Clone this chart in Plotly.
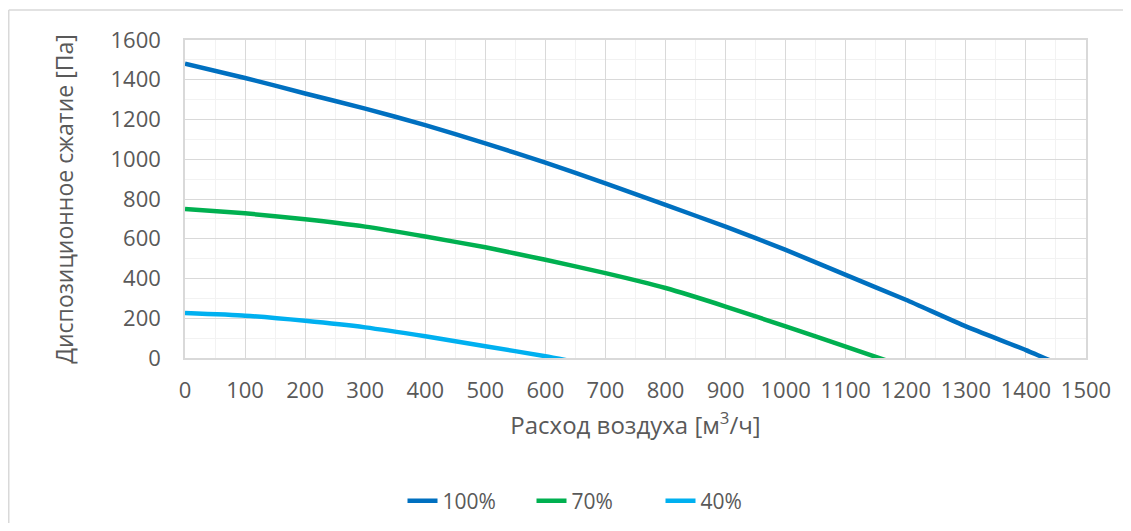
import plotly.graph_objects as go

# Data
x_100 = [0, 100, 200, 300, 400, 500, 600, 700, 800, 900, 1000, 1100, 1200, 1300, 1400, 1450]
y_100 = [1481, 1409, 1331, 1255, 1172, 1080, 983, 879, 770, 661, 544, 418, 293, 159, 40, -25]

x_70 = [0, 100, 200, 300, 400, 500, 600, 700, 800, 900, 1000, 1100, 1175]
y_70 = [750, 728, 698, 661, 611, 557, 494, 427, 352, 259, 159, 57, -20]

x_40 = [0, 100, 200, 300, 400, 500, 600, 650]
y_40 = [226, 213, 187, 154, 109, 59, 9, -20]

series = [("100%", x_100, y_100, "#0070C0"),
          ("70%", x_70, y_70, "#00B050"),
          ("40%", x_40, y_40, "#00B0F0")]

x_title = "Расход воздуха [м<sup>3</sup>/ч]"
y_title = "Диспозиционное сжатие [Па]"

FONT = "Open Sans"
GRAY = "#595959"

fig = go.Figure()
for name, xs, ys, col in series:
    fig.add_trace(go.Scatter(x=xs, y=ys, name=name, mode="lines",
                             line=dict(color=col, width=4.5, shape="spline", smoothing=0.5)))

# page body has an 8px margin: figure origin is at page (8, 8)
OFF = 8
W, H = 1131 - 2 * OFF, 531 - 2 * OFF
L = 185 - OFF
T = 40 - OFF
R = (W + OFF) - 1086
B = (H + OFF) - 358
pw = W - L - R
ph = H - T - B

fig.update_layout(
    width=W, height=H,
    margin=dict(l=L, r=R, t=T, b=B, autoexpand=False),
    paper_bgcolor="white", plot_bgcolor="white",
    font=dict(family=FONT, color=GRAY, size=21),
    showlegend=True,
    legend=dict(orientation="h", xref="container", yref="container",
                x=(596 - OFF) / W, xanchor="center", y=(H + OFF - 501) / H, yanchor="middle",
                font=dict(size=21, color=GRAY), entrywidth=84, entrywidthmode="pixels",
                tracegroupgap=0),
    xaxis=dict(range=[0, 1500], dtick=100, tick0=0, showgrid=True, gridcolor="#D9D9D9", gridwidth=1,
               minor=dict(dtick=50, showgrid=True, gridcolor="#F2F2F2"),
               showline=True, linecolor="#D9D9D9", linewidth=1.5, mirror=True,
               ticks="", ticklabelstandoff=12, zeroline=False, automargin=False,
               tickfont=dict(size=22, color=GRAY),
               title=dict(text=x_title, font=dict(size=24, color=GRAY), standoff=14)),
    yaxis=dict(range=[0, 1600], dtick=200, tick0=0, showgrid=True, gridcolor="#D9D9D9", gridwidth=1,
               minor=dict(dtick=100, showgrid=True, gridcolor="#F2F2F2"),
               showline=True, linecolor="#D9D9D9", linewidth=1.5, mirror=True,
               ticks="", ticklabelstandoff=18, zeroline=False, automargin=False,
               tickfont=dict(size=22, color=GRAY),
               title=dict(text=y_title, font=dict(size=23, color=GRAY), standoff=30)),
)

# Outer chart-area border (left and top edges visible)
x_left = (0.75 - L) / pw
y_top = (H - B - 2) / ph
y_bot = -(B + 10) / ph
fig.add_shape(type="line", xref="paper", yref="paper", x0=x_left, x1=x_left, y0=y_bot, y1=y_top,
              line=dict(color="#D9D9D9", width=1.5))
fig.add_shape(type="line", xref="paper", yref="paper", x0=x_left, x1=(W - L + 10) / pw, y0=y_top, y1=y_top,
              line=dict(color="#D9D9D9", width=1.5))

fig.write_html("out.html")
